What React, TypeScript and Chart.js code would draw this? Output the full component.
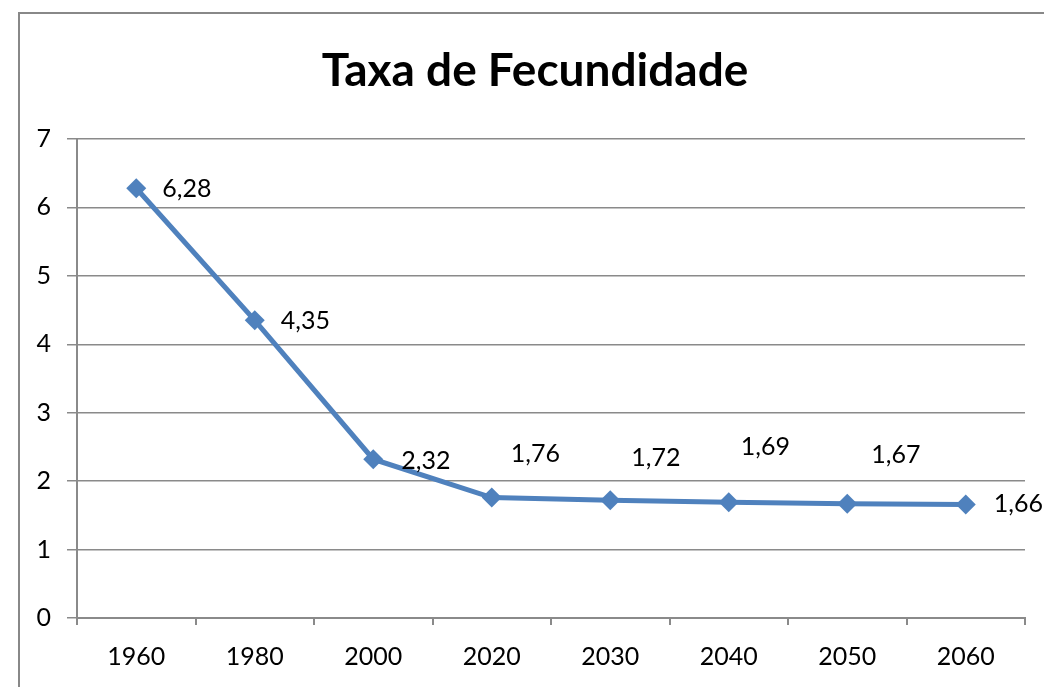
import React, { useEffect, useRef } from "react";
import { Chart, registerables } from "chart.js";

Chart.register(...registerables);

const categories = ["1960", "1980", "2000", "2020", "2030", "2040", "2050", "2060"];
const fertility = [6.28, 4.35, 2.32, 1.76, 1.72, 1.69, 1.67, 1.66];
const yTicks = [0, 1, 2, 3, 4, 5, 6, 7];
const titleText = "Taxa de Fecundidade";
// label placement offsets (style): [dx to text left edge, dy to text center]
const labelOffsets = [
  [26, 1],
  [26, 1],
  [28, 2],
  [19, -44],
  [21, -42],
  [12, -55],
  [24, -49],
  [28, 0],
];

const FONT = "Lato";
const BLUE = "#4F81BD";
const GRID = "#8a8a8a";

const framePlugin = {
  id: "frame",
  beforeDraw(chart: any) {
    const ctx = chart.ctx;
    ctx.save();
    ctx.fillStyle = "#ffffff";
    ctx.fillRect(0, 0, chart.width, chart.height);
    ctx.strokeStyle = "#888888";
    ctx.lineWidth = 2;
    ctx.beginPath();
    ctx.moveTo(19, chart.height + 2);
    ctx.lineTo(19, 13);
    ctx.lineTo(chart.width + 2, 13);
    ctx.stroke();
    // title, centred over the framed area
    ctx.font = `bold 46px ${FONT}`;
    ctx.fillStyle = "#000000";
    ctx.textAlign = "center";
    ctx.textBaseline = "middle";
    ctx.fillText(titleText, 535, 71);
    ctx.restore();
  },
};

const labelPlugin = {
  id: "valueLabels",
  afterDatasetsDraw(chart: any) {
    const ctx = chart.ctx;
    const meta = chart.getDatasetMeta(0);
    ctx.save();
    ctx.font = `25px ${FONT}`;
    ctx.fillStyle = "#000000";
    ctx.textAlign = "left";
    ctx.textBaseline = "middle";
    meta.data.forEach((pt: any, i: number) => {
      const [dx, dy] = labelOffsets[i];
      const txt = fertility[i].toFixed(2).replace(".", ",");
      ctx.fillText(txt, pt.x + dx, pt.y + dy);
    });
    ctx.restore();
  },
};

export default function App() {
  const ref = useRef<HTMLCanvasElement | null>(null);
  useEffect(() => {
    if (!ref.current) return;
    const chart = new Chart(ref.current, {
      type: "line",
      data: {
        labels: categories,
        datasets: [
          {
            data: fertility,
            borderColor: BLUE,
            backgroundColor: BLUE,
            borderWidth: 5,
            pointStyle: "rectRot",
            pointRadius: 10,
            pointBorderWidth: 0,
            pointBackgroundColor: BLUE,
            tension: 0,
          },
        ],
      },
      options: {
        responsive: false,
        animation: false,
        layout: { padding: { left: 0, right: 19, top: 139, bottom: 0 } },
        plugins: {
          legend: { display: false },
          tooltip: { enabled: false },
          title: { display: false },
        },
        scales: {
          x: {
            offset: true,
            afterFit(scale: any) {
              scale.height = 69;
            },
            grid: {
              display: true,
              drawOnChartArea: false,
              drawTicks: true,
              tickLength: 7,
              offset: true,
              color: GRID,
              lineWidth: 2,
            },
            border: { display: true, color: GRID, width: 2 },
            ticks: {
              color: "#000000",
              font: { family: FONT, size: 25 },
              padding: 17,
              maxRotation: 0,
            },
          },
          y: {
            min: 0,
            max: 7,
            afterFit(scale: any) {
              scale.width = 77;
            },
            afterBuildTicks(scale: any) {
              scale.ticks = yTicks.map((v) => ({ value: v }));
            },
            grid: {
              display: true,
              drawTicks: true,
              tickLength: 10,
              color: GRID,
              lineWidth: 1.5,
            },
            border: { display: true, color: GRID, width: 2 },
            ticks: {
              color: "#000000",
              font: { family: FONT, size: 25 },
              padding: 16,
            },
          },
        },
      },
      plugins: [framePlugin, labelPlugin],
    });
    return () => chart.destroy();
  }, []);
  return (
    <div style={{ position: "absolute", left: 0, top: 0, width: 1044, height: 687 }}>
      <canvas ref={ref} width={1044} height={687} style={{ width: 1044, height: 687 }} />
    </div>
  );
}
